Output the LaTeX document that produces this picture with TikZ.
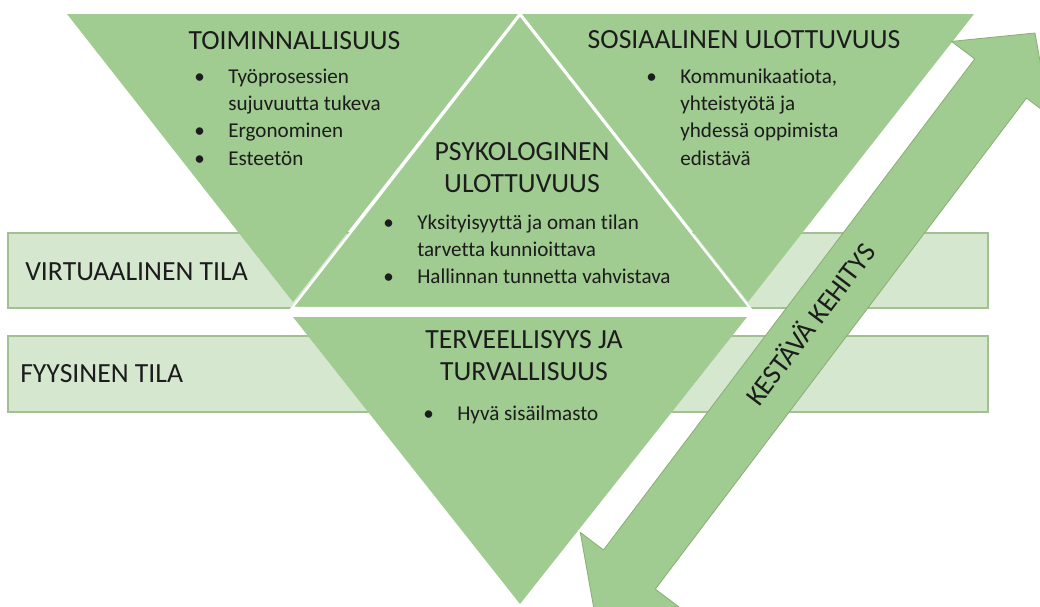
\documentclass[tikz,border=0pt]{standalone}
\usepackage{fontspec}
\setmainfont{Carlito}[Ligatures=NoCommon]
\usepackage{array}
\definecolor{leaf}{RGB}{160,203,145}
\definecolor{pale}{RGB}{213,232,207}
\definecolor{paleedge}{RGB}{163,192,146}
\definecolor{arrowedge}{RGB}{138,176,118}
\definecolor{ink}{RGB}{28,28,28}
\newcolumntype{B}{@{}p{24.2pt}@{}}
\begin{document}
\begin{tikzpicture}[x=0.025cm,y=-0.025cm,
  band/.style={fill=pale,draw=paleedge,line width=0.8pt},
  facet/.style={fill=leaf},
  facetsep/.style={fill=leaf,draw=white,line width=1.6pt,line join=miter},
  arrowbody/.style={fill=leaf,draw=arrowedge,line width=0.6pt,line join=miter},
  heading/.style={font=\fontsize{19.7}{22.8}\selectfont,text=ink,inner sep=0pt},
  items/.style={font=\fontsize{15}{19.5}\selectfont,text=ink,inner sep=0pt,anchor=base west}]
\useasboundingbox (0,0) rectangle (1040,606);
\clip (0,0) rectangle (1040,606);

% the two layers of space
\draw[band] (8,233) rectangle (988,308);
\draw[band] (8,336) rectangle (988,412);

% the four triangles
\fill[facet] (67,14) -- (518,14) -- (293,302) -- cycle;
\fill[facet] (522,14) -- (974,14) -- (748,302) -- cycle;
\draw[facetsep] (520,15) -- (750,308) -- (292,308) -- cycle;
\fill[facet] (293,317) -- (747,317) -- (520,604) -- cycle;

% double arrow of sustainable development
\draw[arrowbody] (595,615) -- (580.3,532.4) -- (603.5,549.9) -- (974.7,58.9)
  -- (951.5,41.4) -- (1035,33) -- (1049.7,115.6) -- (1026.5,98.1)
  -- (655.3,589.1) -- (678.5,606.6) -- cycle;

% headings
\node[heading,anchor=base] (toim) at (294.5,49) {TOIMINNALLISUUS};
\node[heading,anchor=base] (sos) at (744,48) {SOSIAALINEN ULOTTUVUUS};
\node[heading,anchor=base] (psy) at (522,160)
  {\begin{tabular}[t]{@{}c@{}}PSYKOLOGINEN\\ULOTTUVUUS\end{tabular}};
\node[heading,anchor=base] (ter) at (524,348)
  {\begin{tabular}[t]{@{}c@{}}TERVEELLISYYS JA\\TURVALLISUUS\end{tabular}};
\node[heading,anchor=base west] (virt) at (25,280) {VIRTUAALINEN TILA};
\node[heading,anchor=base west] (fyys) at (20,382) {FYYSINEN TILA};
\node[heading,anchor=base,rotate=52.9] (kest) at (818,330) {KESTÄVÄ KEHITYS};

% bullet lists
\node[items] (toimlist) at (194,83)
  {\begin{tabular}[t]{B@{}l@{}}
   \textbullet & Työprosessien\\
               & sujuvuutta tukeva\\
   \textbullet & Ergonominen\\
   \textbullet & Esteetön
   \end{tabular}};
\node[items] (soslist) at (646,83)
  {\begin{tabular}[t]{B@{}l@{}}
   \textbullet & Kommunikaatiota,\\
               & yhteistyötä ja\\
               & yhdessä oppimista\\
               & edistävä
   \end{tabular}};
\node[items] (psylist) at (383,229)
  {\begin{tabular}[t]{B@{}l@{}}
   \textbullet & Yksityisyyttä ja oman tilan\\
               & tarvetta kunnioittava\\
   \textbullet & Hallinnan tunnetta vahvistava
   \end{tabular}};
\node[items] (terlist) at (423,420)
  {\begin{tabular}[t]{B@{}l@{}}
   \textbullet & Hyvä sisäilmasto
   \end{tabular}};
\end{tikzpicture}
\end{document}
